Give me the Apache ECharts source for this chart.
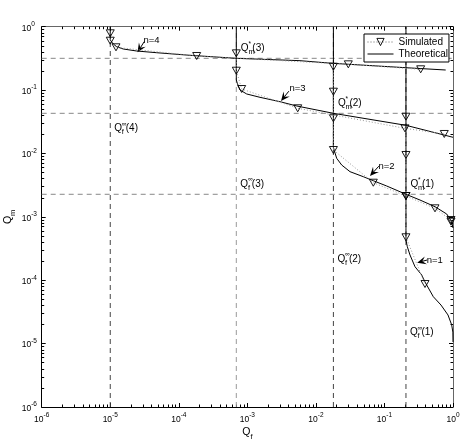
<!DOCTYPE html>
<html><head><meta charset="utf-8">
<script src="https://cdn.jsdelivr.net/npm/echarts@6/dist/echarts.min.js"></script>
<style>html,body{margin:0;padding:0;background:#fff}#c{width:463px;height:447px}</style>
</head><body><div id="c"></div>
<script>
// ---------- data ----------
// Q_f^inf(n) for n = 1..4 (vertical dashed lines)
const qfInf = [0.206, 0.018, 6.9e-4, 1e-5];
// Q_m^*(k) for k = 1..3 (horizontal dashed lines)
const qmStar = [0.00227, 0.043, 0.317];
// theoretical curves
const theory1 = [[0.206,1],[0.206,4.31e-4],[0.2156,3.38e-4],[0.236,2.5e-4],[0.279,1.634e-4],[0.3495,1.209e-4],[0.3905,9.37e-5],[0.516,5.5e-5],[0.668,4.06e-5],[0.845,2.83e-5],[0.957,1.97e-5],[0.995,1.52e-5],[1,1.06e-5]];
const theory2 = [[0.018,1],[0.018,0.0125],[0.019,0.0102],[0.0201,0.00839],[0.02379,0.00657],[0.03145,0.00516],[0.04915,0.0043],[0.06877,0.003717],[0.1079,0.003067],[0.206,0.00227],[0.33,0.001843],[0.5463,0.001445],[0.809,0.001109],[0.957,0.000838],[1,0.000667]];
const theory3 = [[6.9e-4,1],[6.9e-4,0.1442],[7.135e-4,0.1279],[7.81e-4,0.1003],[9.78e-4,0.0868],[1.53e-3,0.0769],[2.995e-3,0.0656],[5.25e-3,0.0561],[0.018,0.043],[0.206,0.0278],[1,0.018]];
const theory4 = [[1e-5,1],[1e-5,0.617],[1.108e-5,0.533],[1.242e-5,0.4835],[1.55e-5,0.4446],[2.431e-5,0.4136],[4.76e-5,0.3888],[1.457e-4,0.3538],[6.9e-4,0.317],[5.86e-3,0.291],[0.01736,0.2646],[0.206,0.2254],[0.7825,0.2074]];
// simulated points
const sim1 = [[0.206,0.038],[0.206,0.00946],[0.206,0.002132],[0.206,0.000476],[0.3905,8.72e-5]];
const sim2 = [[0.018,0.2338],[0.018,0.0943],[0.018,0.0359],[0.018,0.01134],[0.06877,0.003457],[0.206,0.002132],[0.5463,0.001363],[0.935,0.000891],[0.935,0.000838]];
const sim3 = [[6.9e-4,0.38],[6.9e-4,0.2021],[8.27e-4,0.104],[5.43e-3,0.0516],[0.1994,0.0249],[0.7464,0.0203]];
const sim4 = [[1e-5,0.787],[1e-5,0.601],[1.213e-5,0.473],[1.824e-4,0.345],[0.0297,0.255],[0.3379,0.2128]];
// annotations
const nLabels = ['n=1','n=2','n=3','n=4'];
const arrowTips = [[0.30,1.89e-4],[0.0615,0.00441],[3.1e-3,0.0673],[2.5e-5,0.395]];
const qfLabelY = [1.5e-5, 2.16e-4, 3.32e-3, 0.0249];
const axisMin = 1e-6, axisMax = 1;
const seriesNames = ['Simulated','Theoretical'];

// ---------- chart ----------
const F = '"Liberation Sans", Arial, Helvetica, sans-serif';
const minorTicks = [];
for (let e = -6; e < 0; e++) for (let m = 2; m <= 9; m++) minorTicks.push(+(m * Math.pow(10, e)).toPrecision(3));

const expFmt = v => { const e = Math.round(Math.log10(v)); return '{b|10}{s|' + e + '}'; };
const richLbl = {
  b: {fontSize: 8.5, lineHeight: 12, verticalAlign: 'bottom', fontFamily: F, color: '#000'},
  s: {fontSize: 6.5, lineHeight: 8, verticalAlign: 'top', fontFamily: F, color: '#000'}
};
const nameRich = {
  q: {fontSize: 10.5, fontFamily: F, color: '#000', lineHeight: 14, verticalAlign: 'top'},
  s: {fontSize: 7.5, fontFamily: F, color: '#000', lineHeight: 14, verticalAlign: 'bottom'}
};

function mkAxis(pos, isMajor, withLabel, lineColor, extra) {
  const a = Object.assign({
    type: 'log', logBase: 10, min: axisMin, max: axisMax, position: pos,
    splitLine: {show: false},
    axisLine: {show: isMajor, lineStyle: {color: lineColor, width: 1}},
    axisTick: isMajor ? {show: true, inside: true, length: 4, lineStyle: {color: '#000'}}
                      : {show: true, inside: true, length: 2.5, customValues: minorTicks, lineStyle: {color: '#000'}},
    axisLabel: {show: false},
    silent: true
  }, extra || {});
  if (isMajor) a.interval = 1;
  return a;
}

const xAxes = [
  mkAxis('bottom', true, true, '#000', {axisLabel: {show: true, formatter: expFmt, rich: richLbl, margin: 5},
    name: '{q|Q}{s|f}', nameLocation: 'middle', nameGap: 20, nameMoveOverlap: false,
    nameTextStyle: {rich: nameRich}}),
  mkAxis('bottom', false, false, '#000'),
  mkAxis('top', true, false, '#666'),
  mkAxis('top', false, false, '#666')
];
const yAxes = [
  mkAxis('left', true, true, '#000', {axisLabel: {show: true, formatter: expFmt, rich: richLbl, align: 'left', margin: 20},
    name: '{q|Q}{s|m}', nameLocation: 'middle', nameGap: 25, nameMoveOverlap: false,
    nameTextStyle: {rich: nameRich}}),
  mkAxis('left', false, false, '#000'),
  mkAxis('right', true, false, '#666'),
  mkAxis('right', false, false, '#666')
];

const series = [];
qmStar.forEach(v => series.push({type: 'line', name: 'h', data: [[axisMin, v],[axisMax, v]], symbol: 'none',
  lineStyle: {color: '#888', width: 1, type: [5,4]}, silent: true, z: 1}));
qfInf.forEach((v, i) => series.push({type: 'line', name: 'v', data: [[v, axisMin],[v, axisMax]], symbol: 'none',
  lineStyle: {color: i === 2 ? '#999' : '#444', width: 1, type: [5,4]}, silent: true, z: 1}));
[theory1, theory2, theory3, theory4].forEach(d => series.push({type: 'line', name: seriesNames[1], data: d, symbol: 'none',
  lineStyle: {color: '#000', width: 1}, itemStyle: {color: '#000'}, silent: true, z: 3}));
[sim1, sim2, sim3, sim4].forEach(d => series.push({type: 'line', name: seriesNames[0], data: d, symbol: 'triangle', symbolRotate: 180,
  symbolSize: [8, 7], showAllSymbol: true,
  itemStyle: {color: 'rgba(255,255,255,0)', borderColor: '#000', borderWidth: 0.9},
  lineStyle: {color: '#999', width: 1, type: [1, 2]}, silent: true, z: 4}));

const option = {
  animation: false,
  backgroundColor: '#fff',
  grid: {left: 41.7, right: 10, top: 26.7, bottom: 40, containLabel: false, outerBoundsMode: 'none'},
  xAxis: xAxes, yAxis: yAxes,
  legend: {
    data: [
      {name: seriesNames[0], itemStyle: {color: 'rgba(255,255,255,0)', borderColor: '#000', borderWidth: 0.9},
       lineStyle: {color: '#666', width: 1, type: [1, 2]}},
      {name: seriesNames[1], itemStyle: {opacity: 0}, lineStyle: {color: '#000', width: 1}}
    ],
    orient: 'vertical', left: 364, top: 34, backgroundColor: '#fff',
    borderColor: '#000', borderWidth: 1, borderRadius: 0, padding: [3, 1, 3, 3], itemGap: 2,
    itemWidth: 26, itemHeight: 9, textStyle: {fontSize: 10, fontFamily: F, color: '#000'}},
  series: series
};
const chart = echarts.init(document.getElementById('c'), null, {renderer: 'canvas'});
chart.setOption(option);

// ---------- annotations ----------
const toPx = p => chart.convertToPixel({xAxisIndex: 0, yAxisIndex: 0}, p);
const txt = (x, y, text, size, extra) => Object.assign({type: 'text', x: x, y: y, silent: true,
  style: {text: text, fontSize: size, fontFamily: F, fill: '#000', align: 'left', verticalAlign: 'middle'}}, extra || {});
function qLabel(x, y, sub, sup, k) {
  return {type: 'group', x: x, y: y, silent: true, children: [
    txt(0, 0, 'Q', 10),
    txt(7.6, -4.5, sup, 6.5),
    txt(7.6, 3.8, sub, 7.5),
    txt(11.5, 0, '(' + k + ')', 10)
  ]};
}
const graphics = [];
qmStar.forEach((v, i) => { const p = toPx([qfInf[i], v]); graphics.push(qLabel(p[0] + 4.5, p[1] - 10, 'm', '*', i + 1)); });
qfInf.forEach((v, i) => { const p = toPx([v, qfLabelY[i]]); graphics.push(qLabel(p[0] + 4, p[1], 'f', '\u221e', i + 1)); });
const tailOff = [[10, -2.7], [8.8, -9.8], [7.8, -9.8], [6.8, -10.8]];
const textOff = [[9.6, -2], [8.5, -10], [8.5, -12.5], [6, -12]];
arrowTips.forEach((t, i) => {
  const p = toPx(t);
  const tx = p[0] + tailOff[i][0], ty = p[1] + tailOff[i][1];
  let dx = p[0] - tx, dy = p[1] - ty; const L = Math.hypot(dx, dy); dx /= L; dy /= L;
  const hl = 9, hw = 4, nx = -dy, ny = dx;
  const bx = p[0] - dx * hl, by = p[1] - dy * hl;
  const notchX = p[0] - dx * hl * 0.6, notchY = p[1] - dy * hl * 0.6;
  graphics.push({type: 'line', silent: true, shape: {x1: tx, y1: ty, x2: notchX, y2: notchY}, style: {stroke: '#000', lineWidth: 1}});
  graphics.push({type: 'polygon', silent: true, shape: {points: [[p[0], p[1]], [bx + nx * hw, by + ny * hw], [notchX, notchY], [bx - nx * hw, by - ny * hw]]},
    style: {fill: '#000'}});
  graphics.push(txt(p[0] + textOff[i][0], p[1] + textOff[i][1], nLabels[i], 9.5));
});
chart.setOption({graphic: graphics});
</script>
</body></html>
